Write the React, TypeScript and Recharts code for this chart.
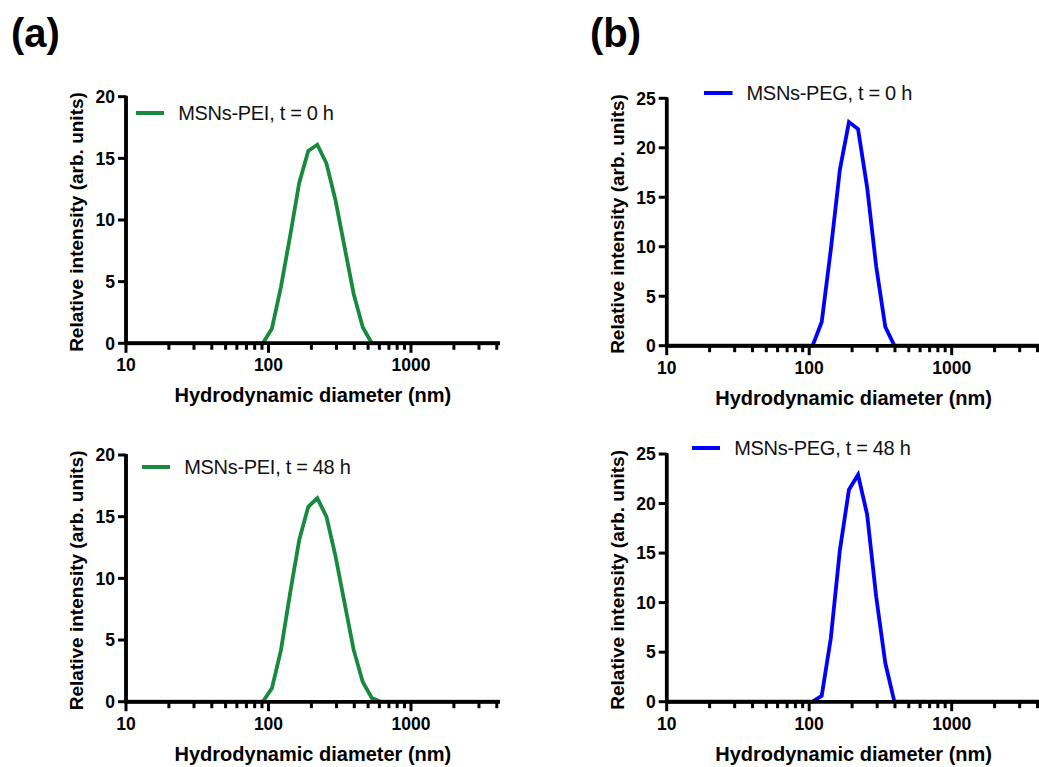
import React from 'react';
import { LineChart, Line, XAxis, YAxis, Legend, Label } from 'recharts';

// DLS size bins (nm), log spaced
const diameterNm = [
  8.721, 10.1, 11.7, 13.54, 15.69, 18.17, 21.04, 24.36, 28.21, 32.67, 37.84,
  43.82, 50.75, 58.77, 68.06, 78.82, 91.28, 105.7, 122.4, 141.8, 164.2, 190.1,
  220.2, 255.0, 295.3, 342.0, 396.1, 458.7, 531.2, 615.1, 712.4, 825.0, 955.4,
  1106, 1281, 1484, 1718, 1990, 2305, 2669, 3091, 3580, 4145, 4801,
];

const peiT0 = [
  0, 0, 0, 0, 0, 0, 0, 0, 0, 0, 0, 0, 0, 0, 0, 0, 0,
  1.2, 4.6, 8.7, 13.0, 15.6, 16.1, 14.6, 11.6, 7.8, 4.0, 1.3,
  0, 0, 0, 0, 0, 0, 0, 0, 0, 0, 0, 0, 0, 0, 0, 0,
];

const peiT48 = [
  0, 0, 0, 0, 0, 0, 0, 0, 0, 0, 0, 0, 0, 0, 0, 0, 0,
  1.1, 4.2, 8.8, 13.1, 15.8, 16.5, 15.0, 11.8, 8.0, 4.2, 1.6, 0.3,
  0, 0, 0, 0, 0, 0, 0, 0, 0, 0, 0, 0, 0, 0, 0,
];

const pegT0 = [
  0, 0, 0, 0, 0, 0, 0, 0, 0, 0, 0, 0, 0, 0, 0, 0, 0, 0,
  2.4, 9.7, 17.8, 22.6, 21.9, 16.0, 8.0, 1.9,
  0, 0, 0, 0, 0, 0, 0, 0, 0, 0, 0, 0, 0, 0, 0, 0, 0, 0,
];

const pegT48 = [
  0, 0, 0, 0, 0, 0, 0, 0, 0, 0, 0, 0, 0, 0, 0, 0, 0, 0,
  0.6, 6.4, 15.3, 21.4, 22.9, 18.9, 10.6, 3.9,
  0, 0, 0, 0, 0, 0, 0, 0, 0, 0, 0, 0, 0, 0, 0, 0, 0, 0,
];

const xTicks = [10, 20, 30, 40, 50, 60, 70, 80, 90, 100, 200, 300, 400, 500, 600, 700, 800, 900, 1000, 2000, 3000, 4000];
const xMajor = [10, 100, 1000];
const yTicksPei = [0, 5, 10, 15, 20];
const yTicksPeg = [0, 5, 10, 15, 20, 25];

const FONT = '"Liberation Sans", Arial, Helvetica, sans-serif';
const GREEN = '#188a3e';
const BLUE = '#0000ff';
const Y_AXIS_W = 60;
const X_AXIS_H = 60;
const AXIS_W = 3.5;

// x tick: draws its own mark; the first tick also draws the axis lines (under the series)
const makeLogTick = (plotW: number, plotH: number) => (props: any) => {
  const { x, y, payload } = props;
  const major = xMajor.includes(payload.value);
  const first = payload.value === 10;
  return (
    <g>
      {first && (
        <>
          <line x1={x} x2={x + plotW} y1={y} y2={y} stroke="#000" strokeWidth={AXIS_W} />
          <line x1={x} x2={x} y1={y + AXIS_W / 2} y2={y - plotH - 1} stroke="#000" strokeWidth={AXIS_W} />
        </>
      )}
      <line x1={x} x2={x} y1={y} y2={y + (major ? 9.5 : 6.5)} stroke="#000" strokeWidth={3} />
      {major && (
        <text x={x} y={y + 28} textAnchor="middle" fontFamily={FONT} fontWeight="bold" fontSize={17.5} fill="#000">
          {payload.value}
        </text>
      )}
    </g>
  );
};

const YTick = (props: any) => {
  const { x, y, payload } = props;
  return (
    <g>
      <line x1={x + 3} x2={x + 11} y1={y} y2={y} stroke="#000" strokeWidth={3} />
      <text x={x} y={y} dy="0.36em" textAnchor="end" fontFamily={FONT} fontWeight="bold" fontSize={17.5} fill="#000">
        {payload.value}
      </text>
    </g>
  );
};

const XTitle = (props: any) => {
  const { x, y, width } = props.viewBox;
  return (
    <text x={x + width / 2} y={y + 59} textAnchor="middle" fontFamily={FONT} fontWeight="bold" fontSize={20} fill="#000">
      Hydrodynamic diameter (nm)
    </text>
  );
};

const YTitle = (props: any) => {
  const { x, y, width, height } = props.viewBox;
  const cx = x + width - 50;
  const cy = y + height / 2 + 2;
  return (
    <text
      x={cx}
      y={cy}
      dy="0.36em"
      textAnchor="middle"
      transform={`rotate(-90, ${cx}, ${cy})`}
      fontFamily={FONT}
      fontWeight="bold"
      fontSize={19}
      fill="#000"
    >
      Relative intensity (arb. units)
    </text>
  );
};

type PanelProps = {
  left: number;
  top: number;
  width: number;
  height: number;
  plotLeft: number;
  plotTop: number;
  plotRight: number;
  plotBottom: number;
  values: number[];
  yMax: number;
  yTicks: number[];
  color: string;
  name: string;
  legendX: number;
  legendY: number;
};

const Panel = (p: PanelProps) => {
  const data = diameterNm.map((d, i) => ({ d, v: p.values[i] }));
  const margin = {
    top: p.plotTop,
    left: p.plotLeft - Y_AXIS_W,
    right: p.plotRight,
    bottom: p.plotBottom - X_AXIS_H,
  };
  const plotW = p.width - p.plotLeft - p.plotRight;
  const plotH = p.height - p.plotTop - p.plotBottom;
  const LogTick = makeLogTick(plotW, plotH);
  return (
    <div style={{ position: 'absolute', left: p.left, top: p.top }}>
      <LineChart width={p.width} height={p.height} data={data} margin={margin}>
        <XAxis
          dataKey="d"
          type="number"
          scale="log"
          domain={[10, 4200]}
          allowDataOverflow
          ticks={xTicks}
          interval={0}
          height={X_AXIS_H}
          tickSize={0}
          tickMargin={0}
          tickLine={false}
          tick={<LogTick />}
          axisLine={{ stroke: '#000', strokeWidth: AXIS_W }}
        >
          <Label content={<XTitle />} />
        </XAxis>
        <YAxis
          type="number"
          domain={[0, p.yMax]}
          ticks={p.yTicks}
          interval={0}
          width={Y_AXIS_W}
          tickSize={8}
          tickMargin={3}
          tickLine={false}
          tick={<YTick />}
          axisLine={{ stroke: '#000', strokeWidth: AXIS_W }}
        >
          <Label content={<YTitle />} />
        </YAxis>
        <Legend
          layout="horizontal"
          verticalAlign="middle"
          align="center"
          wrapperStyle={{ left: p.legendX, top: p.legendY - 12, width: 260, height: 24 }}
          content={() => (
            <div style={{ display: 'flex', alignItems: 'center', height: 24 }}>
              <svg width={28.5} height={24}>
                <line x1={0} x2={28.5} y1={12} y2={12} stroke={p.color} strokeWidth={4} />
              </svg>
              <span
                style={{
                  marginLeft: 14,
                  fontFamily: FONT,
                  fontSize: 20,
                  letterSpacing: -0.3,
                  lineHeight: '24px',
                  color: '#111',
                  whiteSpace: 'nowrap',
                }}
              >
                {p.name}
              </span>
            </div>
          )}
        />
        <Line
          type="linear"
          dataKey="v"
          name={p.name}
          stroke={p.color}
          strokeWidth={3.8}
          dot={false}
          activeDot={false}
          isAnimationActive={false}
        />
      </LineChart>
    </div>
  );
};

export default function App() {
  return (
    <div
      style={{
        position: 'absolute',
        left: 0,
        top: 0,
        width: 1039,
        height: 767,
        overflow: 'hidden',
        background: '#fff',
        fontFamily: FONT,
      }}
    >
      <div style={{ position: 'absolute', left: 11, top: 9, fontSize: 40, fontWeight: 'bold', lineHeight: '48px' }}>(a)</div>
      <div style={{ position: 'absolute', left: 590, top: 9, fontSize: 40, fontWeight: 'bold', lineHeight: '48px' }}>(b)</div>

      <Panel
        left={0}
        top={0}
        width={520}
        height={430}
        plotLeft={126}
        plotTop={96.7}
        plotRight={20.2}
        plotBottom={86.7}
        values={peiT0}
        yMax={20}
        yTicks={yTicksPei}
        color={GREEN}
        name="MSNs-PEI, t = 0 h"
        legendX={135.7}
        legendY={113.3}
      />
      <Panel
        left={0}
        top={380}
        width={520}
        height={387}
        plotLeft={126}
        plotTop={75}
        plotRight={20.2}
        plotBottom={65.3}
        values={peiT48}
        yMax={20}
        yTicks={yTicksPei}
        color={GREEN}
        name="MSNs-PEI, t = 48 h"
        legendX={141.7}
        legendY={87.3}
      />
      <Panel
        left={520}
        top={0}
        width={540}
        height={430}
        plotLeft={146.7}
        plotTop={98.3}
        plotRight={19.5}
        plotBottom={84.3}
        values={pegT0}
        yMax={25}
        yTicks={yTicksPeg}
        color={BLUE}
        name="MSNs-PEG, t = 0 h"
        legendX={184}
        legendY={92.7}
      />
      <Panel
        left={520}
        top={380}
        width={540}
        height={387}
        plotLeft={146.7}
        plotTop={74}
        plotRight={19.5}
        plotBottom={65.3}
        values={pegT48}
        yMax={25}
        yTicks={yTicksPeg}
        color={BLUE}
        name="MSNs-PEG, t = 48 h"
        legendX={171.7}
        legendY={68.3}
      />
    </div>
  );
}
